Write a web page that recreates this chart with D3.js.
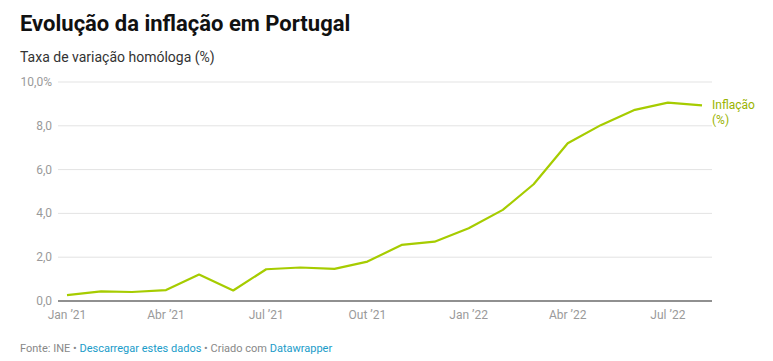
<!DOCTYPE html>
<html><head><meta charset="utf-8">
<script src="https://cdn.jsdelivr.net/npm/d3@7"></script>
<style>
body{margin:0;background:#fff;font-family:Roboto,"Noto Sans",sans-serif;}
</style></head><body>
<svg id="c" width="773" height="361"></svg>
<script>
const months = ["2021-01","2021-02","2021-03","2021-04","2021-05","2021-06","2021-07","2021-08","2021-09","2021-10","2021-11","2021-12","2022-01","2022-02","2022-03","2022-04","2022-05","2022-06","2022-07","2022-08"];
const inflation = [0.27,0.44,0.41,0.5,1.21,0.48,1.45,1.53,1.47,1.8,2.56,2.71,3.32,4.16,5.33,7.2,8.03,8.73,9.06,8.93];
const yTicks = [0,2,4,6,8,10];
const yTickLabels = ["0,0","2,0","4,0","6,0","8,0","10,0%"];
const xTickMonths = ["2021-01","2021-04","2021-07","2021-10","2022-01","2022-04","2022-07"];
const xTickLabels = ["Jan ’21","Abr ’21","Jul ’21","Out ’21","Jan ’22","Abr ’22","Jul ’22"];

const parse = d3.timeParse("%Y-%m");
const svg = d3.select("#c");
const x = d3.scaleTime().domain([parse(months[0]), parse(months[months.length-1])]).range([67, 702]);
const y = d3.scaleLinear().domain([0,10]).range([301, 82]);

svg.append("text").attr("x",20).attr("y",31).attr("font-size",22).attr("font-weight",700).attr("fill","#111").text("Evolução da inflação em Portugal");
svg.append("text").attr("x",20).attr("y",62).attr("font-size",14).attr("fill","#333").text("Taxa de variação homóloga (%)");

svg.selectAll(".grid").data(yTicks.filter(d=>d>0)).join("line")
  .attr("x1",58).attr("x2",712).attr("y1",d=>y(d)).attr("y2",d=>y(d))
  .attr("stroke","#e3e3e3").attr("stroke-width",1);
svg.selectAll(".yl").data(yTicks).join("text")
  .attr("x",52).attr("y",d=>y(d)+4).attr("text-anchor","end")
  .attr("font-size",12).attr("fill","#9a9a9a").text((d,i)=>yTickLabels[i]);
svg.append("line").attr("x1",58).attr("x2",712).attr("y1",y(0)).attr("y2",y(0)).attr("stroke","#222").attr("stroke-width",1.2);
svg.selectAll(".xl").data(xTickMonths).join("text")
  .attr("x",d=>x(parse(d))).attr("y",319).attr("text-anchor","middle")
  .attr("font-size",12).attr("fill","#9a9a9a").text((d,i)=>xTickLabels[i]);

const line = d3.line().x((d,i)=>x(parse(months[i]))).y(d=>y(d));
svg.append("path").datum(inflation).attr("d",line).attr("fill","none")
  .attr("stroke","#a6cc00").attr("stroke-width",2.2).attr("stroke-linejoin","round");

const lx = x(parse(months[months.length-1]))+10;
const ly = y(inflation[inflation.length-1]);
svg.append("text").attr("x",lx).attr("y",ly+4).attr("font-size",12).attr("fill","#9ab400").text("Inflação");
svg.append("text").attr("x",lx).attr("y",ly+19).attr("font-size",12).attr("fill","#9ab400").text("(%)");

const f = svg.append("text").attr("x",20).attr("y",352).attr("font-size",11).attr("fill","#888");
f.append("tspan").text("Fonte: INE • ");
f.append("tspan").attr("fill","#1a9cc9").text("Descarregar estes dados");
f.append("tspan").text(" • Criado com ");
f.append("tspan").attr("fill","#1a9cc9").text("Datawrapper");
</script></body></html>
